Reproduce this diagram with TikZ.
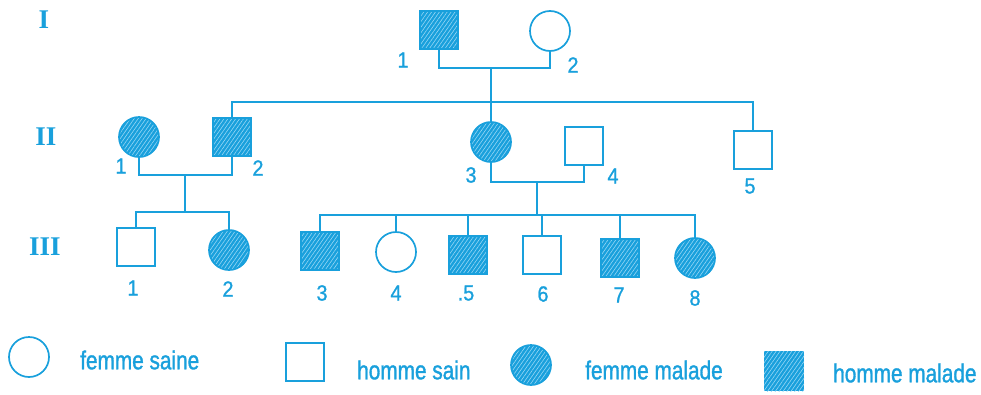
\documentclass[tikz,border=0pt]{standalone}
\usepackage{fontspec}
\setmainfont{Liberation Sans}
\newfontfamily\narrowsans[FakeStretch=0.8, FakeBold=1.2]{Liberation Sans}
\newfontfamily\digitsans[FakeStretch=0.9, FakeBold=1.0]{Liberation Sans}
\newfontfamily\romanfont{Liberation Serif}
\usetikzlibrary{patterns.meta}
\definecolor{pedblue}{RGB}{25,160,220}
\definecolor{hatchblue}{RGB}{150,215,245}

\tikzset{
  person/.style={draw=pedblue, line width=1.7pt, inner sep=0pt, outer sep=0pt},
  male/.style={person, rectangle, minimum size=38pt},
  female/.style={person, circle, minimum size=40pt},
  ill/.style={preaction={fill=pedblue},
    pattern={Lines[angle=55,distance=3.2pt,line width=0.6pt]}, pattern color=hatchblue},
  link/.style={draw=pedblue, line width=1.7pt, line cap=rect},
  num/.style={text=pedblue, font=\digitsans\fontsize{22}{22}\selectfont, inner sep=0pt},
  gen/.style={text=pedblue, font=\romanfont\bfseries\fontsize{27}{27}\selectfont, inner sep=0pt},
  legend/.style={text=pedblue, font=\narrowsans\fontsize{26}{26}\selectfont, anchor=west, inner sep=0pt},
}

\begin{document}
\begin{tikzpicture}[x=1pt, y=-1pt]
\useasboundingbox (0,0) rectangle (981,394);

% generation labels
\node[gen] (gI)   at (44,20)  {I};
\node[gen] (gII)  at (46,137) {II};
\node[gen] (gIII) at (45,247) {III};

% generation I
\node[male, ill] (I1) at (439,30) {};
\node[female]    (I2) at (550,31) {};
\node[num] (lI1) at (403,60) {1};
\node[num] (lI2) at (573,65) {2};

% generation II
\node[female, ill] (II1) at (139,137) {};
\node[male, ill]   (II2) at (232,137) {};
\node[female, ill] (II3) at (491,142) {};
\node[male]        (II4) at (584,146) {};
\node[male]        (II5) at (753,150) {};
\node[num] (lII1) at (121,166) {1};
\node[num] (lII2) at (258,168) {2};
\node[num] (lII3) at (471,175) {3};
\node[num] (lII4) at (613,176) {4};
\node[num] (lII5) at (750,186) {5};

% generation III
\node[male]        (III1) at (136,247) {};
\node[female, ill] (III2) at (229,250) {};
\node[male, ill]   (III3) at (320,251) {};
\node[female]      (III4) at (396,252) {};
\node[male, ill]   (III5) at (468,255) {};
\node[male]        (III6) at (542,255) {};
\node[male, ill]   (III7) at (620,258) {};
\node[female, ill] (III8) at (695,258) {};
\node[num] (lIII1) at (133,288) {1};
\node[num] (lIII2) at (228,289) {2};
\node[num] (lIII3) at (322,293) {3};
\node[num] (lIII4) at (396,293) {4};
\node[num] (lIII5) at (466,293) {.5};
\node[num] (lIII6) at (543,294) {6};
\node[num] (lIII7) at (619,295) {7};
\node[num] (lIII8) at (695,298) {8};

% couple and sibship junctions
\coordinate (c1) at (491,68);
\coordinate (s1) at (491,102);
\coordinate (c2) at (185,175);
\coordinate (s2) at (185,212);
\coordinate (c3) at (537,182);
\coordinate (s3) at (537,215);

% I-1 x I-2 and their children
\draw[link] (I1.south) |- (c1) -| (I2.south);
\draw[link] (c1) -- (s1);
\draw[link] (II2.north) |- (s1) -| (II5.north);
\draw[link] (s1) -- (II3.north);

% II-1 x II-2 and their children
\draw[link] (II1.south) |- (c2) -| (II2.south);
\draw[link] (c2) -- (s2);
\draw[link] (III1.north) |- (s2) -| (III2.north);

% II-3 x II-4 and their children
\draw[link] (II3.south) |- (c3) -| (II4.south);
\draw[link] (c3) -- (s3);
\draw[link] (III3.north) |- (s3) -| (III8.north);
\foreach \k in {4,5,6,7} {
  \draw[link] (III\k.north) -- (III\k.north |- s3);
}

% legend
\node[female]      (kf)  at (29,357)  {};
\node[legend]      (kft) at (80,360)  {femme saine};
\node[male]        (km)  at (305,362) {};
\node[legend]      (kmt) at (357,370) {homme sain};
\node[female, ill] (kfa) at (531,365) {};
\node[legend]      (kfat) at (585,370) {femme malade};
\node[male, ill, draw=none, minimum size=40pt] (kma) at (784,371) {};
\node[legend]      (kmat) at (833,373) {homme malade};
\end{tikzpicture}
\end{document}
